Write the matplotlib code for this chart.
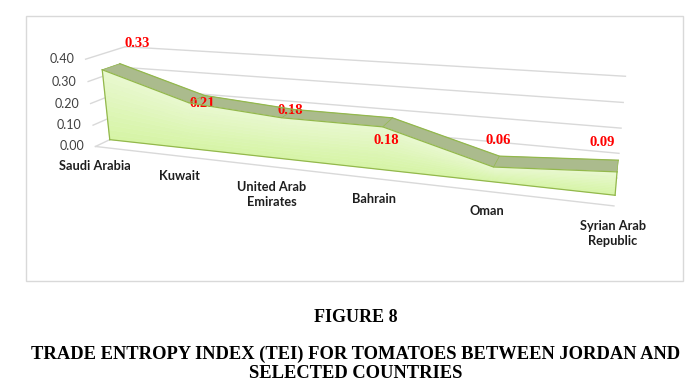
import numpy as np
import matplotlib
matplotlib.use('Agg')
import matplotlib.pyplot as plt
from matplotlib.colors import to_rgb
from matplotlib.patches import Rectangle
from mpl_toolkits.mplot3d.art3d import Poly3DCollection

# ---------------- data ----------------
categories = ['Saudi Arabia', 'Kuwait', 'United Arab\nEmirates', 'Bahrain', 'Oman', 'Syrian Arab\nRepublic']
tei_values = [0.33, 0.21, 0.18, 0.18, 0.06, 0.09]
value_labels = ['0.33', '0.21', '0.18', '0.18', '0.06', '0.09']
y_ticks = [0.0, 0.1, 0.2, 0.3, 0.4]
y_tick_labels = ['0.00', '0.10', '0.20', '0.30', '0.40']

# ---------------- figure / 3D view ----------------
W, H = 687, 389
fig = plt.figure(figsize=(W / 100, H / 100), dpi=100)
fig.patch.set_facecolor('white')
ax = fig.add_axes([0.08666, -0.00162, 0.77893, 1.37565], projection='3d')
n = len(tei_values)
ax.set_xlim(0, n - 1)
ax.set_ylim(0, 1)
ax.set_zlim(y_ticks[0], y_ticks[-1])
ax.view_init(elev=16.142, azim=-68.521, roll=1.324)
ax.set_proj_type('persp', focal_length=0.26927)
ax.set_box_aspect((5.4986, 0.7178, 1.0))
ax.set_axis_off()
ax.patch.set_alpha(0)

D_FRONT, D_BACK = 0.3613, 0.8183   # depth slot of the area series
vals = np.array(tei_values)
GRID = '#d9d9d9'
EDGE = '#93b84c'

# walls / floor gridlines
for t in y_ticks:
    ax.plot([0, 0], [0, 1], [t, t], color=GRID, lw=1.0, clip_on=False, zorder=1)
    ax.plot([0, n - 1], [1, 1], [t, t], color=GRID, lw=1.0, clip_on=False, zorder=1)
ax.plot([0, n - 1], [0, 0], [0, 0], color=GRID, lw=1.0, clip_on=False, zorder=1)

# area: front face with vertical gradient, top band
top_c = np.array(to_rgb('#e9f8d0'))
bot_c = np.array(to_rgb('#d5f4a4'))
nb = 14
polys, cols = [], []
for i in range(n - 1):
    for k in range(nb):
        t0, t1 = k / nb, (k + 1) / nb
        polys.append([(i, D_FRONT, vals[i] * t0), (i + 1, D_FRONT, vals[i + 1] * t0),
                      (i + 1, D_FRONT, vals[i + 1] * t1), (i, D_FRONT, vals[i] * t1)])
        cols.append(tuple(bot_c + (top_c - bot_c) * (t0 + t1) / 2))
band_c = '#abbb8d'
for i in range(n - 1):
    polys.append([(i, D_FRONT, vals[i]), (i + 1, D_FRONT, vals[i + 1]),
                  (i + 1, D_BACK, vals[i + 1]), (i, D_BACK, vals[i])])
    cols.append(to_rgb(band_c))
pc = Poly3DCollection(polys, facecolors=cols, edgecolors=cols, linewidths=0.4)
pc.set_clip_on(False)
ax.add_collection3d(pc)

# outlines
xs = np.arange(n)
lk = dict(color=EDGE, lw=0.9, clip_on=False, zorder=20)
ax.plot(xs, np.full(n, D_FRONT), vals, **lk)
ax.plot(xs, np.full(n, D_BACK), vals, **lk)
ax.plot([0, n - 1], [D_FRONT, D_FRONT], [0, 0], **lk)
ax.plot([0, 0], [D_FRONT, D_FRONT], [0, vals[0]], **lk)
ax.plot([n - 1, n - 1], [D_FRONT, D_FRONT], [0, vals[-1]], **lk)
for i in range(n):
    ax.plot([i, i], [D_FRONT, D_BACK], [vals[i], vals[i]], color=EDGE, lw=0.5,
            clip_on=False, zorder=20)

# ---------------- labels ----------------
M = ax.get_proj()


def to2d(x, y, z):
    p = M @ np.array([x, y, z, 1.0])
    return p[0] / p[3], p[1] / p[3]


for t, lab in zip(y_ticks, y_tick_labels):
    ax.annotate(lab, to2d(0, 0, t), xytext=(-11.5, 0), textcoords='offset pixels',
                ha='right', va='center', fontsize=9, family='Lato', color='#404040',
                annotation_clip=False)

for i, lab in enumerate(categories):
    ax.annotate(lab, to2d(i, 0, 0), xytext=(-1, -14), textcoords='offset pixels',
                ha='center', va='top', fontsize=9.2, family='Lato', fontweight='bold',
                color='#1e1e1e', linespacing=1.3, multialignment='center',
                annotation_clip=False)

label_offsets = [(17.5, 20.6), (-1.7, -7.7), (-4, -1), (-6, -23), (-0.8, 16), (-16, 18)]
for i, (lab, off) in enumerate(zip(value_labels, label_offsets)):
    ax.annotate(lab, to2d(i, D_BACK, vals[i]), xytext=off, textcoords='offset pixels',
                ha='center', va='center', fontsize=10.5, family='Liberation Serif',
                fontweight='bold', color='#ff0000', annotation_clip=False)

# chart frame
fig.add_artist(Rectangle((25.7 / W, 1 - 281.3 / H), (683.3 - 25.7) / W, (281.3 - 15.5) / H,
                         transform=fig.transFigure, fill=False, edgecolor='#d9d9d9', lw=1.0))

# caption
cap = dict(ha='center', va='center', family='Liberation Serif', fontweight='bold', color='black')
fig.text(356 / W, 1 - 318 / H, 'FIGURE 8', fontsize=13, **cap)
fig.text(356 / W, 1 - 354 / H, 'TRADE ENTROPY INDEX (TEI) FOR TOMATOES BETWEEN JORDAN AND',
         fontsize=13.3, **cap)
fig.text(356 / W, 1 - 373 / H, 'SELECTED COUNTRIES', fontsize=13.3, **cap)

fig.savefig('out.png', dpi=100, facecolor='white')
